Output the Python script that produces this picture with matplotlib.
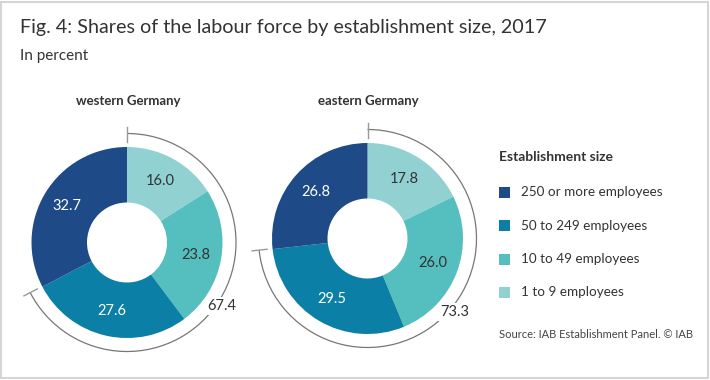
import matplotlib
matplotlib.use("Agg")
import matplotlib.pyplot as plt
import numpy as np
from matplotlib.patches import Arc, Rectangle

plt.rcParams['font.family'] = ['Lato', 'DejaVu Sans']

# data
categories = ['1 to 9 employees', '10 to 49 employees', '50 to 249 employees', '250 or more employees']
west = [16.0, 23.8, 27.6, 32.7]
east = [17.8, 26.0, 29.5, 26.8]
west_small = 67.4
east_small = 73.3
regions = ['western Germany', 'eastern Germany']
colors = ['#92d1d1', '#55bebf', '#0c7fa6', '#1e4a87']
text_colors = ['#333333', '#333333', 'white', 'white']

W, H = 710, 380
fig = plt.figure(figsize=(W / 100, H / 100), dpi=100)
ax = fig.add_axes([0, 0, 1, 1])

def py(y):
    # pixel row -> data y
    return H - y

donuts = [
    (west, west_small, (127, 242.5), regions[0], 124),
    (east, east_small, (367.5, 238.5), regions[1], 130),
]
r_out, r_in, r_arc = 95.5, 40, 109

for vals, small, (cx, cy), name, lab_ang in donuts:
    c = (cx, py(cy))
    wedges, _ = ax.pie(vals, colors=colors, startangle=90, counterclock=False,
                       radius=r_out, center=c,
                       wedgeprops=dict(width=r_out - r_in, linewidth=0))
    tot = sum(vals)
    start = 0
    for v, tc in zip(vals, text_colors):
        mid = (start + v / 2) / tot * 360
        a = np.deg2rad(90 - mid)
        rm = (r_out + r_in) / 2 + 2
        ax.text(c[0] + rm * np.cos(a), c[1] + rm * np.sin(a), f'{v:.1f}',
                ha='center', va='center', fontsize=10.5, color=tc)
        start += v
    # bracket arc over the small establishments
    end = 90 - small / 100 * 360
    ax.add_patch(Arc(c, 2 * r_arc, 2 * r_arc, theta1=end, theta2=90,
                     color='#777777', lw=0.9))
    for ang in (90, end):
        a = np.deg2rad(ang)
        ax.plot([c[0] + (r_arc - 8) * np.cos(a), c[0] + (r_arc + 7) * np.cos(a)],
                [c[1] + (r_arc - 8) * np.sin(a), c[1] + (r_arc + 7) * np.sin(a)],
                color='#999999', lw=1)
    a = np.deg2rad(90 - lab_ang)
    rl = 114
    ax.text(c[0] + rl * np.cos(a), c[1] + rl * np.sin(a), f'{small:.1f}',
            ha='center', va='center', fontsize=10.5, color='#333333',
            bbox=dict(boxstyle='square,pad=0.15', fc='white', ec='none'))
    ax.text(cx + 1, py(101), name, ha='center', va='center', fontsize=9.5,
            fontweight='bold', color='#333333')

ax.set_xlim(0, W)
ax.set_ylim(0, H)
ax.set_aspect('auto')
ax.axis('off')

# titles
fig.text(20 / W, 1 - 27 / H, 'Fig. 4: Shares of the labour force by establishment size, 2017',
         ha='left', va='center', fontsize=14.2, color='#333333')
fig.text(20 / W, 1 - 56 / H, 'In percent', ha='left', va='center',
         fontsize=11, color='#333333')

# legend
ax.text(499, py(157), 'Establishment size', ha='left', va='center',
        fontsize=10, fontweight='bold', color='#333333')
leg_y = [192, 225.5, 259, 292.5]
for lab, col, y in zip(categories[::-1], colors[::-1], leg_y):
    ax.add_patch(Rectangle((499, py(y) - 5.5), 11, 11, fc=col, ec='none'))
    ax.text(521, py(y), lab, ha='left', va='center', fontsize=9.7, color='#333333')
ax.text(499, py(335), 'Source: IAB Establishment Panel. \u00a9 IAB', ha='left',
        va='center', fontsize=8, color='#444444')

# frame
fig.patches.append(Rectangle((1.5 / W, 2 / H), (W - 3.5) / W, (H - 3.5) / H,
                             transform=fig.transFigure, fill=False,
                             ec='#d5d5d5', lw=1.5))

fig.savefig('out.png', dpi=100)
